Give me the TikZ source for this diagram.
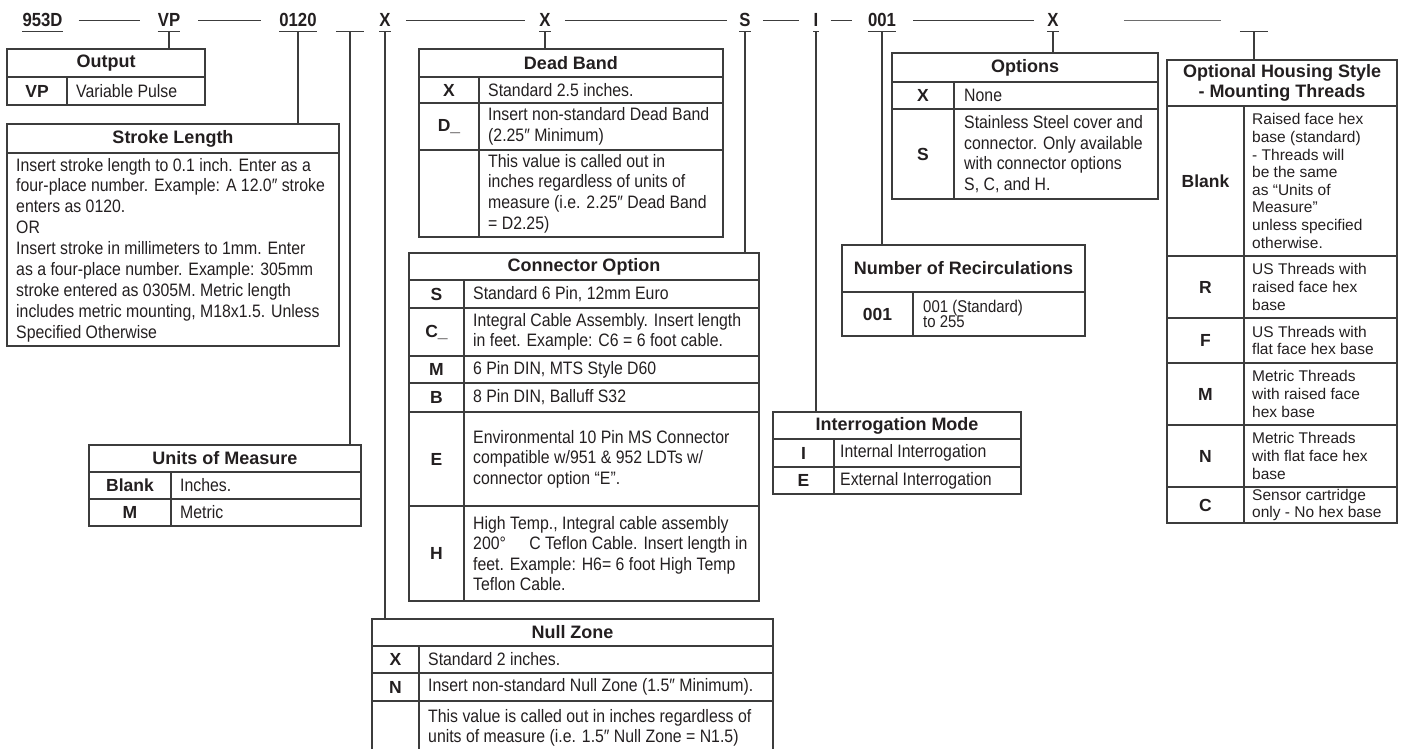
\documentclass[tikz,border=0pt]{standalone}
\usepackage{fontspec}
\setmainfont{Liberation Sans}
\newfontfamily\condfont{Liberation Sans}[FakeStretch=0.88]
\definecolor{ln}{HTML}{3C3C3C}
\definecolor{tx}{HTML}{231F20}
\newcommand\bodyf{\condfont\fontsize{18}{20.6}\selectfont}
\newcommand\recf{\condfont\fontsize{17}{15.5}\selectfont}
\newcommand\hdrf{\bfseries\fontsize{18}{19.5}\selectfont}
\newcommand\keyf{\bfseries\fontsize{17.5}{20}\selectfont}
\newcommand\codef{\condfont\bfseries\fontsize{19}{20}\selectfont}
\newcommand\houf{\fontsize{15.5}{17.6}\selectfont}
\tikzset{
  tbl/.style={draw=ln, line width=1.2pt},
  stem/.style={draw=ln, line width=1.2pt},
  dashl/.style={draw=ln, line width=1pt},
  hdr/.style={font=\hdrf, text=tx, inner sep=0pt, align=center},
  key/.style={font=\keyf, text=tx, inner sep=0pt},
  desc/.style={font=\bodyf, text=tx, inner sep=0pt, anchor=west, align=left},
  hdesc/.style={font=\houf, text=tx, inner sep=0pt, anchor=west, align=left},
  code/.style={font=\codef, text=tx, inner xsep=0pt, inner ysep=0pt, anchor=base, text depth=4.5pt},
}
\newcommand\mytbox[8]{%
  \draw[tbl] (#2,#5) rectangle (#4,#7);
  \draw[tbl] (#2,#6) -- (#4,#6);
  \draw[tbl] (#3,#6) -- (#3,#7);
  \node[hdr] (#1h) at ({(#2+#4)/2},{(#5+#6)/2}) {#8};
  \coordinate (#1t) at (#2,#5);}
\newcommand\mysep[3]{\draw[tbl] (#1,#3) -- (#2,#3);}
\begin{document}
\begin{tikzpicture}[x=1pt,y=-1pt]
\useasboundingbox (0,0) rectangle (1401,749);
% ---------- code line ----------
\node[code] (c1) at (42.5,27) {953D};
\node[code] (c2) at (169,27) {VP};
\node[code] (c3) at (298,27) {0120};
\node[code, minimum width=28pt] (c4) at (350,27) {};
\node[code] (c5) at (385,27) {X};
\node[code] (c6) at (545,27) {X};
\node[code] (c7) at (745,27) {S};
\node[code] (c8) at (816,27) {I};
\node[code] (c9) at (882,27) {001};
\node[code] (c10) at (1053,27) {X};
\node[code, minimum width=28pt] (c11) at (1254,27) {};
\foreach \n in {c1,c2,c3,c4,c5,c6,c7,c8,c9,c10,c11}
  \draw[stem] (\n.south west) -- (\n.south east);
\draw[dashl] ([xshift=16pt,yshift=6.5pt]c1.base east) -- ([xshift=-18pt,yshift=6.5pt]c2.base west);
\draw[dashl] ([xshift=18pt,yshift=6.5pt]c2.base east) -- ([xshift=-18pt,yshift=6.5pt]c3.base west);
\draw[dashl] ([xshift=15pt,yshift=6.5pt]c5.base east) -- ([xshift=-14pt,yshift=6.5pt]c6.base west);
\draw[dashl] ([xshift=14pt,yshift=6.5pt]c6.base east) -- ([xshift=-12pt,yshift=6.5pt]c7.base west);
\draw[dashl] ([xshift=12pt,yshift=6.5pt]c7.base east) -- ([xshift=-14pt,yshift=6.5pt]c8.base west);
\draw[dashl] ([xshift=12pt,yshift=6.5pt]c8.base east) -- ([xshift=-16pt,yshift=6.5pt]c9.base west);
\draw[dashl] ([xshift=17pt,yshift=6.5pt]c9.base east) -- ([xshift=-13pt,yshift=6.5pt]c10.base west);
\draw[dashl, draw=ln!75] ([xshift=65pt,yshift=6.5pt]c10.base east) -- ([xshift=-19pt,yshift=6.5pt]c11.base west);
% ---------- Output ----------
\mytbox{o}{7}{67}{205}{49}{77}{105}{Output}
\node[key] (ok1) at (37,91) {VP};
\node[desc] (od1) at (76,91) {Variable Pulse};
% ---------- Stroke Length ----------
\draw[tbl] (7,124) rectangle (339,346);
\draw[tbl] (7,153) -- (339,153);
\node[hdr] (sh) at (173,138.5) {Stroke Length};
\coordinate (st) at (7,124);
\node[desc, font=\condfont\fontsize{18}{20.9}\selectfont] (sd) at (16,250) {Insert stroke length to 0.1 inch. Enter as a\\four-place number. Example: A 12.0″ stroke\\enters as 0120.\\OR\\Insert stroke in millimeters to 1mm. Enter\\as a four-place number. Example: 305mm\\stroke entered as 0305M. Metric length\\includes metric mounting, M18x1.5. Unless\\Specified Otherwise};
% ---------- Units of Measure ----------
\mytbox{u}{89}{171}{361}{445}{472}{526}{Units of Measure}
\mysep{89}{361}{499}
\node[key] (uk1) at (130,485.5) {Blank};
\node[key] (uk2) at (130,512.5) {M};
\node[desc] (ud1) at (180,485.5) {Inches.};
\node[desc] (ud2) at (180,512.5) {Metric};
% ---------- Dead Band ----------
\mytbox{d}{419}{479}{723}{49}{77}{237}{Dead Band}
\mysep{419}{723}{103}
\mysep{419}{723}{150}
\node[key] (dk1) at (449,90) {X};
\node[key] (dk2) at (449,126.5) {D\_};
\node[desc] (dd1) at (488,90) {Standard 2.5 inches.};
\node[desc] (dd2) at (488,126.5) {Insert non-standard Dead Band\\(2.25″ Minimum)};
\node[desc] (dd3) at (488,193.5) {This value is called out in\\inches regardless of units of\\measure (i.e. 2.25″ Dead Band\\= D2.25)};
% ---------- Connector Option ----------
\mytbox{k}{409}{464}{759}{253}{280}{601}{Connector Option}
\mysep{409}{759}{308}
\mysep{409}{759}{356}
\mysep{409}{759}{383}
\mysep{409}{759}{412}
\mysep{409}{759}{506}
\node[key] (kk1) at (436.5,294) {S};
\node[key] (kk2) at (436.5,332) {C\_};
\node[key] (kk3) at (436.5,369.5) {M};
\node[key] (kk4) at (436.5,397.5) {B};
\node[key] (kk5) at (436.5,459) {E};
\node[key] (kk6) at (436.5,553.5) {H};
\node[desc] (kd1) at (473,294) {Standard 6 Pin, 12mm Euro};
\node[desc] (kd2) at (473,332) {Integral Cable Assembly. Insert length\\in feet. Example: C6 = 6 foot cable.};
\node[desc] (kd3) at (473,369.5) {6 Pin DIN, MTS Style D60};
\node[desc] (kd4) at (473,397.5) {8 Pin DIN, Balluff S32};
\node[desc] (kd5) at (473,459) {Environmental 10 Pin MS Connector\\compatible w/951 \& 952 LDTs w/\\connector option “E”.};
\node[desc] (kd6) at (473,553.5) {High Temp., Integral cable assembly\\200°\hspace{1.3em}C Teflon Cable. Insert length in\\feet. Example: H6= 6 foot High Temp\\Teflon Cable.};
% ---------- Null Zone ----------
\draw[tbl] (372,749) -- (372,619) -- (773,619) -- (773,749);
\mysep{372}{773}{646}
\mysep{372}{773}{673}
\mysep{372}{773}{701}
\draw[tbl] (419,646) -- (419,749);
\node[hdr] (nh) at (572.5,632.5) {Null Zone};
\coordinate (nt) at (372,619);
\node[key] (nk1) at (395.5,659.5) {X};
\node[key] (nk2) at (395.5,687) {N};
\node[desc] (nd1) at (428,659.5) {Standard 2 inches.};
\node[desc] (nd2) at (428,687) {Insert non-standard Null Zone (1.5″ Minimum).};
\node[desc, anchor=north west] (nd3) at (428,709) {This value is called out in inches regardless of\\units of measure (i.e. 1.5″ Null Zone = N1.5)};
% ---------- Options ----------
\mytbox{p}{892}{954}{1158}{53}{82}{199}{Options}
\mysep{892}{1158}{109}
\node[key] (pk1) at (923,95.5) {X};
\node[key] (pk2) at (923,154) {S};
\node[desc] (pd1) at (964,95.5) {None};
\node[desc] (pd2) at (964,154) {Stainless Steel cover and\\connector. Only available\\with connector options\\S, C, and H.};
% ---------- Number of Recirculations ----------
\mytbox{r}{842}{913}{1085}{245}{292}{336}{Number of Recirculations}
\node[key] (rk1) at (877.5,314) {001};
\node[desc, font=\recf] (rd1) at (923,314) {001 (Standard)\\to 255};
% ---------- Interrogation Mode ----------
\mytbox{i}{773}{834}{1021}{412}{439}{494}{Interrogation Mode}
\mysep{773}{1021}{467}
\node[key] (ik1) at (803.5,453) {I};
\node[key] (ik2) at (803.5,480.5) {E};
\node[desc] (id1) at (840,453) {Internal Interrogation};
\node[desc] (id2) at (840,480.5) {External Interrogation};
% ---------- Optional Housing Style ----------
\mytbox{h}{1167}{1244}{1397}{60}{106}{523}{Optional Housing Style\\- Mounting Threads}
\mysep{1167}{1397}{256}
\mysep{1167}{1397}{318}
\mysep{1167}{1397}{363}
\mysep{1167}{1397}{425}
\mysep{1167}{1397}{487}
\node[key] (hk1) at (1205.5,181) {Blank};
\node[key] (hk2) at (1205.5,287) {R};
\node[key] (hk3) at (1205.5,340.5) {F};
\node[key] (hk4) at (1205.5,394) {M};
\node[key] (hk5) at (1205.5,456) {N};
\node[key] (hk6) at (1205.5,505) {C};
\node[hdesc] (hd1) at (1252,181) {Raised face hex\\base (standard)\\- Threads will\\be the same\\as “Units of\\Measure”\\unless specified\\otherwise.};
\node[hdesc] (hd2) at (1252,287) {US Threads with\\raised face hex\\base};
\node[hdesc] (hd3) at (1252,340.5) {US Threads with\\flat face hex base};
\node[hdesc] (hd4) at (1252,394) {Metric Threads\\with raised face\\hex base};
\node[hdesc] (hd5) at (1252,456) {Metric Threads\\with flat face hex\\base};
\node[hdesc] (hd6) at (1252,505) {Sensor cartridge\\only - No hex base};
% ---------- stems ----------
\draw[stem] (c2.south) -- (c2.south |- ot);
\draw[stem] (c3.south) -- (c3.south |- st);
\draw[stem] (c4.south) -- (c4.south |- ut);
\draw[stem] (c5.south) -- (c5.south |- nt);
\draw[stem] (c6.south) -- (c6.south |- dt);
\draw[stem] (c7.south) -- (c7.south |- kt);
\draw[stem] (c8.south) -- (c8.south |- it);
\draw[stem] (c9.south) -- (c9.south |- rt);
\draw[stem] (c10.south) -- (c10.south |- pt);
\draw[stem] (c11.south) -- (c11.south |- ht);
\end{tikzpicture}
\end{document}
